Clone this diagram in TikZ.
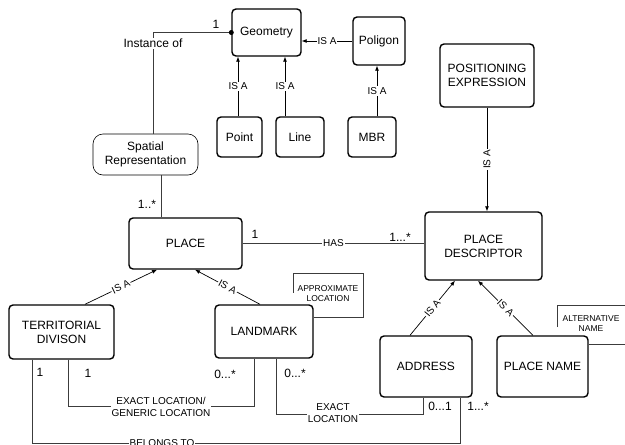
\documentclass[tikz,border=0pt]{standalone}
\usepackage{fontspec}
\setmainfont{Liberation Sans}
\usetikzlibrary{arrows.meta, positioning, calc}
\definecolor{linegray}{RGB}{60,60,60}
\newcommand{\boxfont}{\fontsize{12}{14}\selectfont}
\newcommand{\relfont}{\fontsize{10}{12}\selectfont}
\newcommand{\notefont}{\fontsize{8.5}{10}\selectfont}

\begin{document}
\begin{tikzpicture}[x=1pt, y=-1pt,
    box/.style={draw, line width=1.4pt, rounded corners=4pt, align=center, font=\boxfont, inner sep=0pt},
    softbox/.style={draw, line width=0.6pt, rounded corners=10pt, align=center, font=\boxfont, inner sep=0pt},
    rel/.style={draw=linegray, line width=0.7pt},
    isa/.style={draw=black, line width=0.7pt, -{Latex[length=5pt, width=4pt]}},
    tag/.style={font=\relfont, fill=white, inner sep=1pt, align=center},
    mult/.style={font=\boxfont, inner sep=0pt},
    note/.style={draw=linegray, line width=0.6pt}]

    \useasboundingbox (0,0) rectangle (625,445);

    \node[box, minimum width=69pt, minimum height=47pt] (geometry) at (266.5,32.5) {Geometry};
    \node[box, minimum width=52pt, minimum height=48pt] (poligon) at (379,41) {Poligon};
    \node[box, minimum width=45pt, minimum height=40pt] (point) at (239.5,137) {Point};
    \node[box, minimum width=48pt, minimum height=40pt] (line) at (300,137) {Line};
    \node[box, minimum width=48pt, minimum height=40pt] (mbr) at (372,137) {MBR};
    \node[softbox, minimum width=105pt, minimum height=41pt] (spatial) at (145.5,154.5) {Spatial\\Representation};
    \node[box, minimum width=113pt, minimum height=51pt] (place) at (185.5,243.5) {PLACE};
    \node[box, minimum width=94pt, minimum height=63pt] (posexpr) at (487,75.5) {POSITIONING\\EXPRESSION};
    \node[box, minimum width=117pt, minimum height=68pt] (descriptor) at (483.5,246) {PLACE\\DESCRIPTOR};
    \node[box, minimum width=105pt, minimum height=54pt] (territorial) at (61.5,332) {TERRITORIAL\\DIVISON};
    \node[box, minimum width=98pt, minimum height=53pt] (landmark) at (264,331.5) {LANDMARK};
    \node[box, minimum width=92pt, minimum height=61pt] (address) at (426,366.5) {ADDRESS};
    \node[box, minimum width=91pt, minimum height=61pt] (placename) at (542.5,366.5) {PLACE NAME};

    \draw[rel] (geometry.west) -| ([xshift=7.5pt]spatial.north)
        node[tag, font=\boxfont, pos=0.555] {Instance of};
    \fill (geometry.west) circle (2.5pt);
    \node[mult] (one-geo) at (216,24) {1};

    \foreach \src/\dx in {point/-1.5, line/-15}
        \draw[isa] ([xshift=\dx pt]\src.north) -- ([xshift=\dx pt]\src.north |- geometry.south)
            node[tag, midway] {IS A};
    \draw[isa] ([xshift=5pt]mbr.north) -- ([xshift=5pt]mbr.north |- poligon.south) node[tag, midway] {IS A};
    \draw[isa] (poligon.west) -- (poligon.west -| geometry.east) node[tag, midway] {IS A};
    \draw[isa] (posexpr.south) -- (posexpr.south |- descriptor.north) node[tag, midway, rotate=90] {IS A};
    \draw[isa] ([xshift=23.5pt]territorial.north) -- ([xshift=-28.5pt]place.south) node[tag, midway, sloped] {IS A};
    \draw[isa] ([xshift=-4pt]landmark.north) -- ([xshift=9.5pt]place.south) node[tag, midway, sloped] {IS A};
    \draw[isa] ([xshift=-16pt]address.north) -- ([xshift=-28.5pt]descriptor.south) node[tag, midway, sloped] {IS A};
    \draw[isa] ([xshift=-9.5pt]placename.north) -- ([xshift=-5.5pt]descriptor.south) node[tag, midway, sloped] {IS A};

    \draw[rel] ([xshift=15.5pt]spatial.south) -- ([xshift=15.5pt]spatial.south |- place.north);
    \node[mult] (many-sp) at (147,204) {1..*};

    \draw[rel] (place.east) -- (place.east -| descriptor.west) node[tag, midway] {HAS};
    \node[mult] (one-pl) at (255,234) {1};
    \node[mult] (many-pd) at (400,237) {1...*};

    \draw[rel] ([xshift=6.5pt]territorial.south) -- ++(0,47) -| ([xshift=-10pt]landmark.south);
    \node[tag] (exactgen) at (161,407) {EXACT LOCATION/\\GENERIC LOCATION};
    \node[mult] (one-td) at (88,373) {1};
    \node[mult] (many-lm) at (225,374) {0...*};

    \draw[rel] ([xshift=12pt]landmark.south) -- ++(0,56) -| ([xshift=-3pt]address.south);
    \node[tag] (exact) at (333,413) {EXACT\\LOCATION};
    \node[mult] (many-lm2) at (295,373) {0...*};
    \node[mult] (opt-ad) at (440,406) {0...1};

    \draw[rel] ([xshift=-29.5pt]territorial.south) -- ++(0,84) -| ([xshift=34pt]address.south);
    \node[tag] (belongs) at (162,443) {BELONGS TO};
    \node[mult] (one-td2) at (40,372) {1};
    \node[mult] (many-ad) at (478,406) {1...*};

    \draw[note] (landmark.east |- 0,317) -- (363,317) -- (363,273) -- (293,273) -- (293,293);
    \node[font=\notefont, align=center] (approx) at (328,294) {APPROXIMATE\\LOCATION};
    \draw[note] (557,327) -- (557,305) -- (626,305);
    \draw[note] (placename.east |- 0,344) -- (626,344);
    \node[font=\notefont, align=center] (altname) at (591,324) {ALTERNATIVE\\NAME};

\end{tikzpicture}
\end{document}
